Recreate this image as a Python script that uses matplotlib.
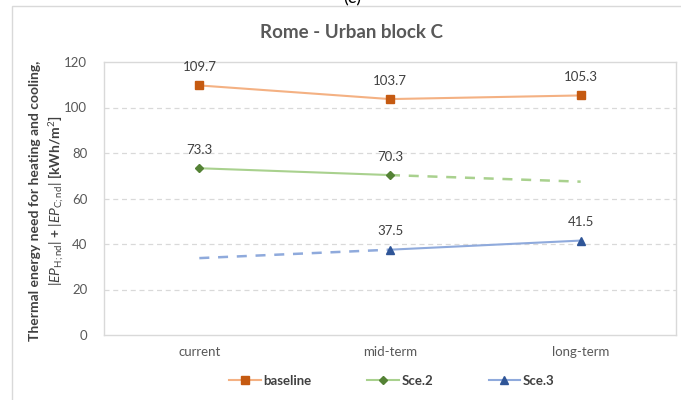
import matplotlib
matplotlib.use('Agg')
import matplotlib.pyplot as plt
from matplotlib.lines import Line2D
from matplotlib.patches import Rectangle

plt.rcParams['font.family'] = ['Lato', 'DejaVu Sans']
plt.rcParams['mathtext.fontset'] = 'custom'
plt.rcParams['mathtext.rm'] = 'Lato'
plt.rcParams['mathtext.it'] = 'Lato:italic'
plt.rcParams['mathtext.bf'] = 'Lato:bold'

# periods on the category axis
periods = ['current', 'mid-term', 'long-term']

# simulated energy need values [kWh/m2]
baseline = [109.7, 103.7, 105.3]
sce2 = [73.3, 70.3]          # current, mid-term
sce3 = [37.5, 41.5]          # mid-term, long-term

# projected (dashed) extensions
sce2_trend = [70.3, 67.4]    # mid-term -> long-term
sce3_trend = [33.8, 37.5]    # current -> mid-term

TEXT = '#595959'
LABEL = '#404040'
GRID = '#d9d9d9'

fig = plt.figure(figsize=(6.81, 4.0), dpi=100)
fig.patches.append(Rectangle((12 / 681, -0.1), 1.1, 1 - 6 / 400 + 0.1,
                             transform=fig.transFigure, fill=False,
                             edgecolor=GRID, linewidth=1.0))
fig.text(352 / 681, 0.992, '(c)', ha='center', va='baseline', fontsize=13,
         color='black')

ax = fig.add_axes([104 / 681, 65 / 400, 572 / 681, 273 / 400])
x = list(range(len(periods)))

# baseline
ax.plot(x, baseline, color='#f4b183', linewidth=1.5, zorder=3)
ax.plot(x, baseline, linestyle='none', marker='s', markersize=5.5,
        color='#c55a11', zorder=4)

# Sce.2
ax.plot(x[:2], sce2, color='#a9d18e', linewidth=1.5, zorder=3)
ax.plot(x[1:], sce2_trend, color='#a9d18e', linewidth=1.8,
        linestyle=(0, (4, 3.5)), zorder=3)
ax.plot(x[:2], sce2, linestyle='none', marker='D', markersize=4.5,
        color='#548235', zorder=4)

# Sce.3
ax.plot(x[1:], sce3, color='#8faadc', linewidth=1.5, zorder=3)
ax.plot(x[:2], sce3_trend, color='#8faadc', linewidth=1.8,
        linestyle=(0, (4, 3.5)), zorder=3)
ax.plot(x[1:], sce3, linestyle='none', marker='^', markersize=6,
        color='#2f5597', zorder=4)

# data labels
for xs, ys in [(x, baseline), (x[:2], sce2), (x[1:], sce3)]:
    for xi, yi in zip(xs, ys):
        ax.annotate(f'{yi:.1f}', (xi, yi), xytext=(0, 9),
                    textcoords='offset points', ha='center', va='bottom',
                    fontsize=9.5, color=LABEL)

ax.set_xlim(-0.5, 2.5)
ax.set_ylim(0, 120)
ax.set_yticks(range(0, 121, 20))
ax.set_xticks(x)
ax.set_xticklabels(periods)
ax.tick_params(length=0, labelsize=9.5, labelcolor=TEXT)
ax.tick_params(axis='y', pad=12)
ax.tick_params(axis='x', pad=8)

for yg in range(20, 120, 20):
    ax.axhline(yg, color=GRID, linewidth=0.9, linestyle=(0, (4, 3)), zorder=1)
for s in ax.spines.values():
    s.set_color(GRID)
    s.set_linewidth(1.0)

ax.set_ylabel('Thermal energy need for heating and cooling,\n'
              r'$|EP_{\mathrm{H;nd}}|$ + $|EP_{\mathrm{C;nd}}|$ [kWh/m$^2$]',
              fontsize=10, color=LABEL, fontweight='bold', linespacing=1.45)
ax.yaxis.set_label_coords(-0.066, 0.49)

fig.text(352 / 681, 1 - 32 / 400, 'Rome - Urban block C', ha='center',
         va='center', fontsize=13.5, fontweight='bold', color=TEXT)

handles = [
    Line2D([], [], color='#f4b183', marker='s', markersize=5.5,
           markerfacecolor='#c55a11', markeredgecolor='#c55a11', linewidth=1.5),
    Line2D([], [], color='#a9d18e', marker='D', markersize=4.5,
           markerfacecolor='#548235', markeredgecolor='#548235', linewidth=1.5),
    Line2D([], [], color='#8faadc', marker='^', markersize=6,
           markerfacecolor='#2f5597', markeredgecolor='#2f5597', linewidth=1.5),
]
leg = fig.legend(handles, ['baseline', 'Sce.2', 'Sce.3'], loc='center',
                 bbox_to_anchor=(392 / 681, 19 / 400), ncol=3, frameon=False,
                 fontsize=9.5, handlelength=2.4, handletextpad=0.2,
                 columnspacing=4.2)
for t in leg.get_texts():
    t.set_color(LABEL)
    t.set_fontweight('bold')

fig.savefig('out.png', dpi=100)
